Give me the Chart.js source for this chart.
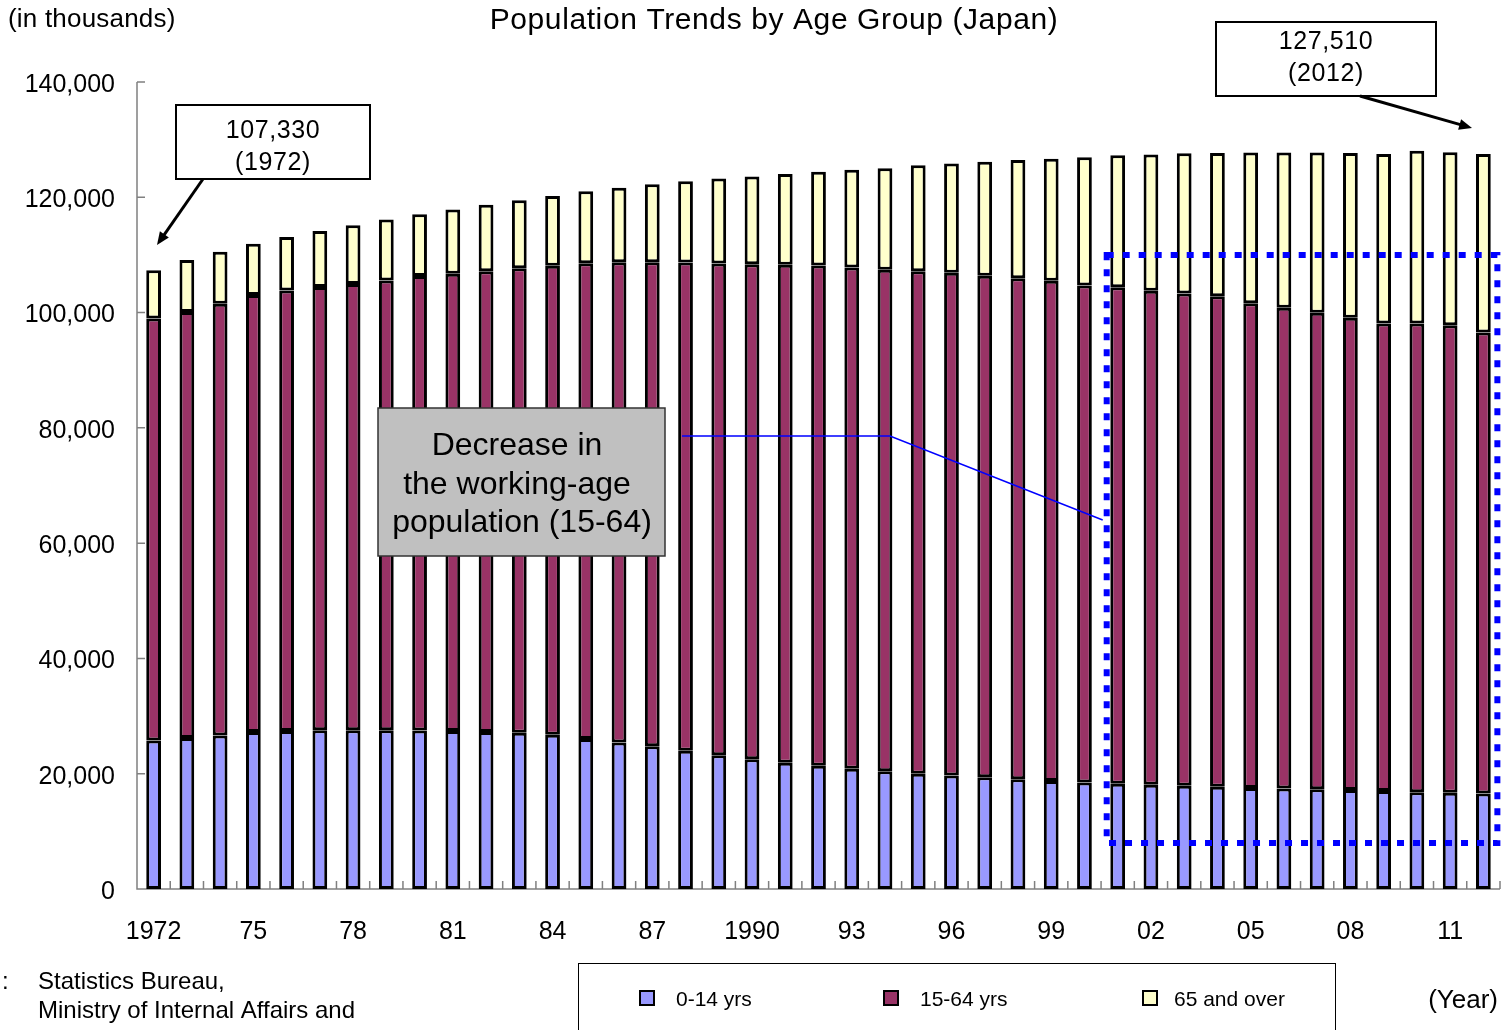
<!DOCTYPE html>
<html>
<head>
<meta charset="utf-8">
<title>Population Trends by Age Group (Japan)</title>
<script src="https://cdn.jsdelivr.net/npm/chart.js@4.4.1/dist/chart.umd.min.js"></script>
<style>
  body { margin: 0; background: #fff; }
  canvas { display: block; }
</style>
</head>
<body>
<canvas id="chart" width="1503" height="1030"></canvas>
<script>
// Population by age group, in thousands
const years = ['1972', '1973', '1974', '1975', '1976', '1977', '1978', '1979', '1980', '1981',
    '1982', '1983', '1984', '1985', '1986', '1987', '1988', '1989', '1990', '1991',
    '1992', '1993', '1994', '1995', '1996', '1997', '1998', '1999', '2000', '2001',
    '2002', '2003', '2004', '2005', '2006', '2007', '2008', '2009', '2010', '2011', '2012'];

const yearLabels = ['1972', '', '', '75', '', '', '78', '', '', '81',
    '', '', '84', '', '', '87', '', '', '1990', '',
    '', '93', '', '', '96', '', '', '99', '', '',
    '02', '', '', '05', '', '', '08', '', '', '11', ''];

const age0to14 = [25770, 26200, 26650, 27220, 27420, 27530, 27560, 27560, 27510, 27430,
    27250, 27090, 26740, 26030, 25430, 24750, 23990, 23200, 22490, 21900,
    21360, 20840, 20410, 20010, 19690, 19370, 19060, 18740, 18470, 18280,
    18100, 17910, 17730, 17520, 17430, 17290, 17180, 17010, 16800, 16700, 16550];

const age15to64 = [73200, 73900, 74900, 75810, 76400, 76900, 77400, 78000, 78830, 79300,
    79900, 80600, 81400, 82510, 83300, 84000, 84700, 85300, 85900, 86400,
    86800, 87000, 87000, 87170, 87200, 87000, 86900, 86800, 86220, 86100,
    85700, 85400, 85100, 84090, 83400, 82700, 81900, 81100, 81300, 81100, 80000];

const age65plus = [8360, 9000, 9020, 8910, 9270, 9720, 10210, 10570, 10720, 11150,
    11540, 11790, 12100, 12510, 12940, 13510, 14090, 14750, 15220, 15740,
    16290, 16920, 17620, 18390, 18970, 19790, 20510, 21130, 22240, 22910,
    23640, 24310, 24860, 26160, 26940, 27780, 28610, 29400, 29960, 30000, 30960];

const yTicks = [0, 20000, 40000, 60000, 80000, 100000, 120000, 140000];

const seriesNames = ['0-14 yrs', '15-64 yrs', '65 and over'];
const seriesColors = ['#9999ff', '#993366', '#ffffcc'];

function drawText(ctx, str, x, y, size, align, spacing) {
    ctx.save();
    ctx.font = size + 'px "Liberation Sans", Arial, sans-serif';
    ctx.fillStyle = '#000';
    ctx.textAlign = align || 'left';
    ctx.textBaseline = 'middle';
    ctx.letterSpacing = (spacing || 0) + 'px';
    ctx.fillText(str, x, y);
    ctx.restore();
}

function drawArrow(ctx, x1, y1, x2, y2) {
    const angle = Math.atan2(y2 - y1, x2 - x1);
    const head = 14;
    ctx.save();
    ctx.strokeStyle = '#000';
    ctx.fillStyle = '#000';
    ctx.lineWidth = 3;
    ctx.beginPath();
    ctx.moveTo(x1, y1);
    ctx.lineTo(x2 - Math.cos(angle) * head * 0.8, y2 - Math.sin(angle) * head * 0.8);
    ctx.stroke();
    ctx.beginPath();
    ctx.moveTo(x2, y2);
    ctx.lineTo(x2 - head * Math.cos(angle - 0.4), y2 - head * Math.sin(angle - 0.4));
    ctx.lineTo(x2 - head * Math.cos(angle + 0.4), y2 - head * Math.sin(angle + 0.4));
    ctx.closePath();
    ctx.fill();
    ctx.restore();
}

function drawNoteBox(ctx, x, y, w, h, lines, off1, off2) {
    ctx.save();
    ctx.fillStyle = '#fff';
    ctx.strokeStyle = '#000';
    ctx.lineWidth = 2;
    ctx.fillRect(x, y, w, h);
    ctx.strokeRect(x, y, w, h);
    ctx.restore();
    drawText(ctx, lines[0], x + w / 2, y + off1, 25, 'center', 0.6);
    drawText(ctx, lines[1], x + w / 2, y + off2, 25, 'center', 0.6);
}

const decorations = {
    id: 'decorations',
    beforeDatasetsDraw(chart) {
        const ctx = chart.ctx;
        const area = chart.chartArea;
        const yScale = chart.scales.y;
        ctx.save();
        ctx.strokeStyle = '#808080';
        ctx.lineWidth = 1.5;
        ctx.beginPath();
        ctx.moveTo(area.left, area.top);
        ctx.lineTo(area.left, area.bottom);
        ctx.lineTo(area.right, area.bottom);
        // y ticks point into the plot
        yTicks.forEach(function (v) {
            const py = yScale.getPixelForValue(v);
            ctx.moveTo(area.left, py);
            ctx.lineTo(area.left + 8, py);
        });
        // x ticks between categories
        const step = (area.right - area.left) / years.length;
        for (let i = 1; i <= years.length; i++) {
            const px = area.left + i * step;
            ctx.moveTo(px, area.bottom);
            ctx.lineTo(px, area.bottom - 8);
        }
        ctx.stroke();
        ctx.restore();
    },
    afterDraw(chart) {
        const ctx = chart.ctx;
        const xScale = chart.scales.x;
        const yScale = chart.scales.y;

        // titles
        drawText(ctx, '(in thousands)', 8, 20, 26, 'left', 0.2);
        drawText(ctx, 'Population Trends by Age Group (Japan)', 774, 21, 30, 'center', 0.6);

        // value call-outs
        drawNoteBox(ctx, 176, 105, 194, 74, ['107,330', '(1972)'], 26, 58);
        drawArrow(ctx, 203, 179, 157, 245);
        drawNoteBox(ctx, 1216, 22, 220, 74, ['127,510', '(2012)'], 20, 52);
        drawArrow(ctx, 1360, 96, 1472, 128);

        // dotted frame around the decline period
        const fx1 = xScale.getPixelForValue(29) - 11;
        const fx2 = xScale.getPixelForValue(40) + 14;
        const fy1 = yScale.getPixelForValue(110000);
        const fy2 = yScale.getPixelForValue(8000);
        ctx.save();
        ctx.strokeStyle = '#0000ff';
        ctx.lineWidth = 6;
        ctx.setLineDash([7, 9]);
        ctx.strokeRect(fx1, fy1, fx2 - fx1, fy2 - fy1);
        ctx.restore();

        // connector line
        ctx.save();
        ctx.strokeStyle = '#0000ff';
        ctx.lineWidth = 1.5;
        ctx.beginPath();
        ctx.moveTo(682, 436);
        ctx.lineTo(890, 436);
        ctx.lineTo(fx1 - 4, 520);
        ctx.stroke();
        ctx.restore();

        // grey note box
        ctx.save();
        ctx.fillStyle = '#c0c0c0';
        ctx.strokeStyle = '#333';
        ctx.lineWidth = 1.5;
        ctx.fillRect(378, 408, 287, 148);
        ctx.strokeRect(378, 408, 287, 148);
        ctx.restore();
        drawText(ctx, 'Decrease in', 517, 446, 32, 'center');
        drawText(ctx, 'the working-age', 517, 485, 32, 'center');
        drawText(ctx, 'population (15-64)', 522, 523, 32, 'center');

        // source
        drawText(ctx, ':', 2, 982, 24, 'left');
        drawText(ctx, 'Statistics Bureau,', 38, 982, 24, 'left');
        drawText(ctx, 'Ministry of Internal Affairs and', 38, 1011, 24, 'left');

        // legend
        ctx.save();
        ctx.strokeStyle = '#000';
        ctx.lineWidth = 1;
        ctx.strokeRect(578.5, 963.5, 757, 80);
        ctx.restore();
        const markerX = [647, 891, 1150];
        const textX = [676, 920, 1174];
        seriesNames.forEach(function (name, i) {
            ctx.save();
            ctx.fillStyle = seriesColors[i];
            ctx.strokeStyle = '#000';
            ctx.lineWidth = 2;
            ctx.fillRect(markerX[i] - 7, 991, 14, 14);
            ctx.strokeRect(markerX[i] - 7, 991, 14, 14);
            ctx.restore();
            drawText(ctx, name, textX[i], 1000, 21, 'left');
        });

        drawText(ctx, '(Year)', 1498, 1001, 26, 'right');
    }
};

const barStyle = {
    borderColor: '#000',
    borderWidth: 3,
    borderSkipped: false,
    barPercentage: 0.74,
    categoryPercentage: 0.6
};

document.addEventListener('DOMContentLoaded', function () {
    const ctx = document.getElementById('chart').getContext('2d');
    new Chart(ctx, {
        type: 'bar',
        data: {
            labels: years,
            datasets: [
                Object.assign({ label: seriesNames[0], data: age0to14, backgroundColor: seriesColors[0] }, barStyle),
                Object.assign({ label: seriesNames[1], data: age15to64, backgroundColor: seriesColors[1] }, barStyle),
                Object.assign({ label: seriesNames[2], data: age65plus, backgroundColor: seriesColors[2] }, barStyle)
            ]
        },
        options: {
            responsive: false,
            animation: false,
            layout: { padding: { top: 82, right: 3, left: 0, bottom: 0 } },
            plugins: {
                legend: { display: false },
                title: { display: false },
                tooltip: { enabled: false }
            },
            scales: {
                x: {
                    stacked: true,
                    grid: { display: false, drawTicks: false },
                    border: { display: false },
                    ticks: {
                        autoSkip: false,
                        maxRotation: 0,
                        padding: 28,
                        color: '#000',
                        font: { family: '"Liberation Sans", Arial, sans-serif', size: 25 },
                        callback: function (val, i) { return yearLabels[i]; }
                    },
                    afterFit: function (scale) {
                        scale.height = 141;
                        scale.paddingLeft = 0;
                        scale.paddingRight = 0;
                    }
                },
                y: {
                    stacked: true,
                    min: 0,
                    max: 140000,
                    grid: { display: false, drawTicks: false },
                    border: { display: false },
                    afterBuildTicks: function (scale) {
                        scale.ticks = yTicks.map(function (v) { return { value: v }; });
                    },
                    ticks: {
                        padding: 22,
                        labelOffset: 3,
                        color: '#000',
                        font: { family: '"Liberation Sans", Arial, sans-serif', size: 25 },
                        callback: function (v) { return v.toLocaleString('en-US'); }
                    },
                    afterFit: function (scale) {
                        scale.width = 137;
                        scale.paddingTop = 0;
                        scale.paddingBottom = 0;
                    }
                }
            }
        },
        plugins: [decorations]
    });
});
</script>
</body>
</html>
